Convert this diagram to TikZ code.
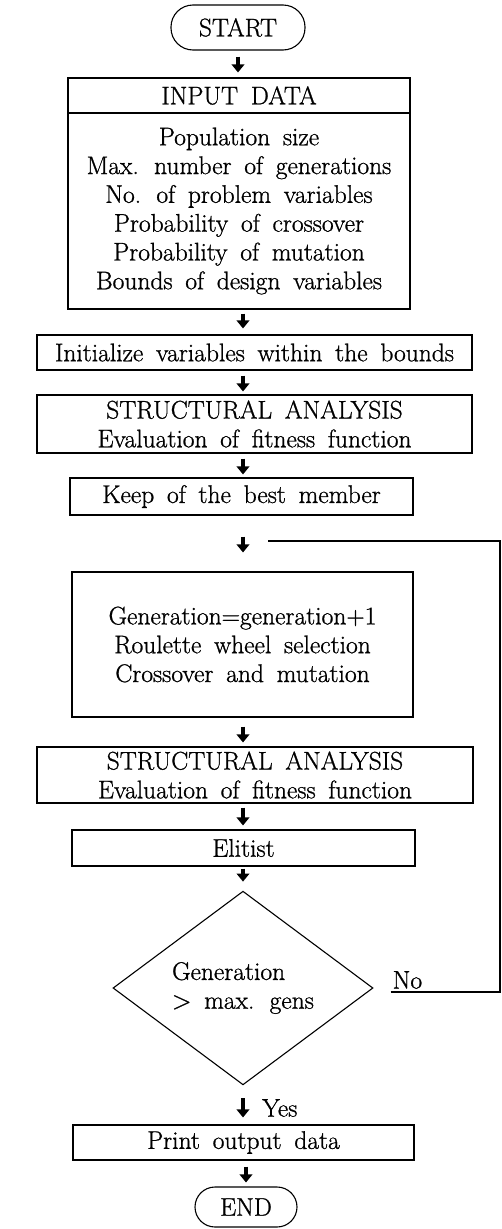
\documentclass[tikz,border=0pt]{standalone}
\usepackage{fontspec}
\newfontfamily\flowfont{Latin Modern Roman}[FakeBold=0.9]
\usetikzlibrary{shapes.geometric,arrows.meta}
\newcommand\flowtxt{\flowfont\fontsize{25.5}{28.8}\selectfont\spaceskip=0.5em plus 0.1em\relax}
\begin{document}
\begin{tikzpicture}[x=1pt,y=-1pt,
  box/.style={draw, line width=1.1pt, rectangle, inner sep=0pt, align=center, font=\flowtxt},
  term/.style={box, rounded corners=20pt},
  blk/.style={line width=4.4pt, -{Triangle[width=12.5pt,length=8pt]}},
  link/.style={line width=1.1pt},
  lbl/.style={font=\flowtxt, inner sep=0pt}]
\useasboundingbox (0,0) rectangle (502,1229);
\coordinate (col) at (243,0);
\node[term, rounded corners=22pt, minimum width=134pt, minimum height=45pt] (start) at (238,27.5) {START};
\node[box, minimum width=342pt, minimum height=35pt] (inhead) at (239,95.5) {INPUT DATA};
\node[box, minimum width=342pt, minimum height=196pt] (inbody) at (239,211) {Population size\\Max. number of generations\\No. of problem variables\\Probability of crossover\\Probability of mutation\\Bounds of design variables};
\node[box, minimum width=435pt, minimum height=35pt] (init) at (254.5,352.5) {Initialize variables within the bounds};
\node[box, minimum width=435pt, minimum height=58pt] (sa1) at (254.5,424) {STRUCTURAL ANALYSIS\\Evaluation of fitness function};
\node[box, minimum width=343pt, minimum height=37pt] (keep) at (241.5,496.5) {Keep of the best member};
\node[box, minimum width=341pt, minimum height=145pt] (gen) at (242.5,644.5) {Generation=generation+1\\Roulette wheel selection\\Crossover and mutation};
\node[box, minimum width=436pt, minimum height=56pt] (sa2) at (255,775) {STRUCTURAL ANALYSIS\\Evaluation of fitness function};
\node[box, minimum width=343pt, minimum height=36pt] (elit) at (243.5,848) {Elitist};
\node[box, shape=diamond, align=left, minimum width=260pt, minimum height=190pt] (dia) at (243,988) {Generation\\> max. gens};
\node[box, minimum width=341pt, minimum height=35pt] (print) at (243.5,1142.5) {Print output data};
\node[term, minimum width=102pt, minimum height=40pt] (fin) at (246,1207) {END};
% arrows
\draw[blk, shorten <=6pt, shorten >=5pt] (start.south) -- (start.south |- inhead.north);
\draw[blk, shorten <=4pt, shorten >=6pt] (inbody.south -| col) -- (init.north -| col);
\draw[blk, shorten <=5pt, shorten >=3pt] (init.south -| col) -- (sa1.north -| col);
\draw[blk, shorten <=5pt, shorten >=3pt] (sa1.south -| col) -- (keep.north -| col);
\draw[blk, shorten <=21pt, shorten >=19pt] (keep.south -| col) -- (gen.north -| col);
\draw[blk, shorten <=9pt, shorten >=4pt] (gen.south -| col) -- (sa2.north -| col);
\draw[blk, shorten <=4pt, shorten >=4pt] (sa2.south -| col) -- (elit.north -| col);
\draw[blk, shorten <=2pt, shorten >=9pt] (elit.south -| col) -- (dia.north);
\draw[blk, shorten <=13pt, shorten >=7pt] (dia.south) -- (dia.south |- print.north);
\draw[blk, shorten <=6pt, shorten >=4pt] (fin.north |- print.south) -- (fin.north);
% feedback loop
\coordinate (nos) at ([xshift=17pt,yshift=-4pt]dia.east);
\coordinate (rc) at (500,541);
\coordinate (fbin) at (268,541);
\draw[link] (nos) -| (rc) -- (fbin);
\node[lbl, anchor=south west] (no) at ([xshift=2pt,yshift=3pt]nos) {No};
\node[lbl, anchor=west] (yes) at (262,1108) {Yes};
\end{tikzpicture}
\end{document}
